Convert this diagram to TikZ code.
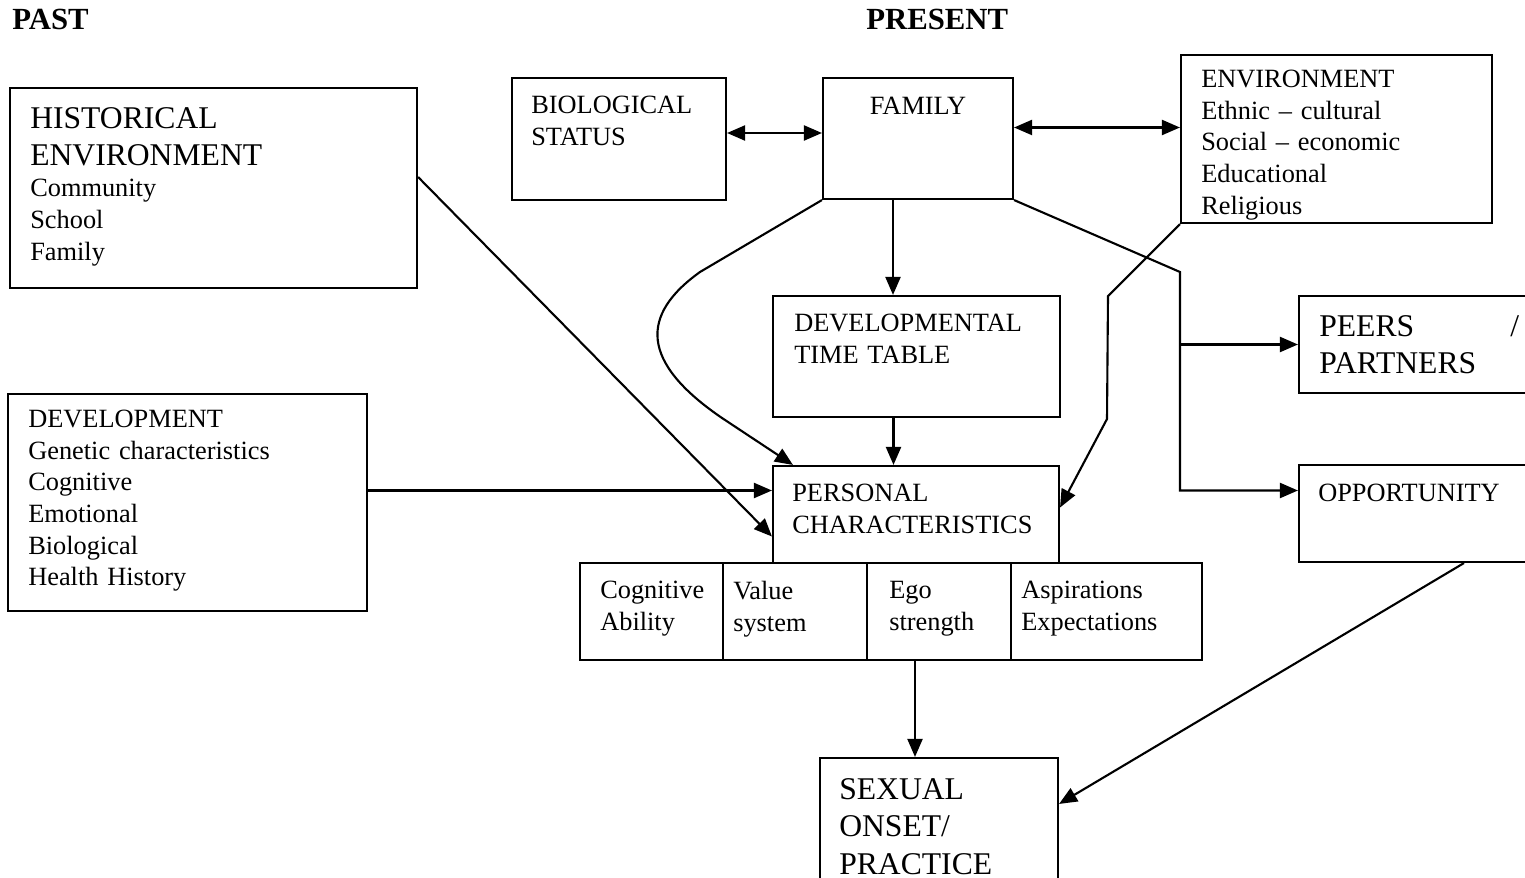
\documentclass[tikz,border=0pt]{standalone}
\usepackage{fontspec}
\setmainfont{Liberation Serif}
\usetikzlibrary{arrows.meta,positioning,calc,fit}

\begin{document}
\begin{tikzpicture}[x=0.02cm,y=-0.02cm,
  factor/.style={draw,line width=1.2pt,inner sep=0pt},
  txt/.style={anchor=north west,inner sep=0pt,align=left,text width=8cm,
    font=\fontsize{15}{18}\selectfont},
  bigtxt/.style={txt,font=\fontsize{18}{21.3}\selectfont},
  head/.style={anchor=base west,inner sep=0pt,font=\fontsize{17.5}{20}\selectfont\bfseries},
  link/.style={line width=1.2pt},
  arr/.style={link,-{Triangle[length=0.36cm,width=0.3cm]}},
  darr/.style={link,{Triangle[length=0.36cm,width=0.3cm]}-{Triangle[length=0.36cm,width=0.3cm]}}
]
  \path[fill=white,use as bounding box] (0,0) rectangle (1525,878);

  % Column headings
  \node[head] (past) at (12,30) {PAST};
  \node[head] (present) at (866,30) {PRESENT};

  % Past factors
  \node[factor,fit={(10,88) (417,288)}] (hist) {};
  \node[txt] (histtxt) at ([shift={(21,20)}]hist.north west) {%
    \fontsize{18}{21}\selectfont HISTORICAL\\ENVIRONMENT\par
    \fontsize{15}{18}\selectfont Community\\School\\Family};
  \node[factor,fit={(8,394) (367,611)}] (dev) {};
  \node[txt] (devtxt) at ([shift={(21,17)}]dev.north west) {%
    DEVELOPMENT\\Genetic characteristics\\Cognitive\\Emotional\\Biological\\Health History};

  % Present factors
  \node[factor,fit={(512,78) (726,200)}] (bio) {};
  \node[txt] (biotxt) at ([shift={(20,19)}]bio.north west) {BIOLOGICAL\\STATUS};
  \node[factor,fit={(823,78) (1013,199)}] (family) {};
  \node[anchor=north,inner sep=0pt,font=\fontsize{15}{18}\selectfont] (famtxt)
    at ([shift={(0,20)}]family.north) {FAMILY};
  \node[factor,fit={(1181,55) (1492,223)}] (env) {};
  \node[txt] (envtxt) at ([shift={(21,16)}]env.north west) {%
    ENVIRONMENT\\Ethnic -- cultural\\Social -- economic\\Educational\\Religious};
  \node[factor,fit={(773,296) (1060,417)}] (devtt) {};
  \node[txt] (devtttxt) at ([shift={(22,19)}]devtt.north west) {DEVELOPMENTAL\\TIME TABLE};
  \node[factor,fit={(1299,296) (1560,393)}] (peers) {};
  \node[bigtxt,text width=4cm] (peerstxt) at ([shift={(21,20)}]peers.north west) {PEERS\hfill/\\PARTNERS};
  \node[factor,fit={(1299,465) (1560,562)}] (opp) {};
  \node[txt] (opptxt) at ([shift={(20,20)}]opp.north west) {OPPORTUNITY};

  % Personal characteristics and its parts
  \node[factor,fit={(773,466) (1059,563)}] (personal) {};
  \node[txt] (perstxt) at ([shift={(20,19)}]personal.north west) {PERSONAL\\CHARACTERISTICS};
  \node[factor,fit={(580,563) (723,660)}] (cog) {};
  \node[txt] (cogtxt) at ([shift={(21,19)}]cog.north west) {Cognitive\\Ability};
  \node[factor,fit={(723,563) (867,660)}] (val) {};
  \node[txt] (valtxt) at ([shift={(11,19)}]val.north west) {Value\\system};
  \node[factor,fit={(867,563) (1011,660)}] (ego) {};
  \node[txt] (egotxt) at ([shift={(23,19)}]ego.north west) {Ego\\strength};
  \node[factor,fit={(1011,563) (1202,660)}] (asp) {};
  \node[txt] (asptxt) at ([shift={(11,19)}]asp.north west) {Aspirations\\Expectations};

  % Outcome
  \node[factor,fit={(820,758) (1058,905)}] (sexual) {};
  \node[bigtxt] (sextxt) at ([shift={(20,21)}]sexual.north west) {SEXUAL\\ONSET/\\PRACTICE};

  % Connectors
  \draw[darr] ($(bio.east)+(0,-6)$) coordinate (bf) -- (bf -| family.west);
  \draw[darr] ($(family.east)+(0,-11)$) coordinate (fe) -- (fe -| env.west);
  \draw[arr] ($(family.south)+(-25,0)$) coordinate (fs) -- (fs |- devtt.north);
  \draw[arr] ($(devtt.south)+(-23,0)$) coordinate (ds) -- (ds |- personal.north);
  \draw[arr] (family.south west) -- (700,272) .. controls (640,315) and (640,362) .. (722,418)
    -- ($(personal.north west)+(21,0)$);
  \draw[arr] ($(hist.east)+(0,-11)$) -- ($(personal.west)+(0,22)$);
  \draw[arr] ($(dev.east)+(0,-12)$) coordinate (dv) -- (dv -| personal.west);
  \draw[arr] (env.south west) -- (1108,296) -- (1107,419) -- ($(personal.east)+(0,-7)$);
  \coordinate (split) at (1180,272);
  \draw[arr] (family.south east) -- (split) |- ($(opp.west)+(0,-23)$);
  \draw[arr] (split |- peers.west) -- (peers.west);
  \draw[arr] ($(opp.south west)+(166,0)$) -- ($(sexual.north east)+(0,47)$);
  \coordinate (sx) at ($(sexual.north)+(-24,0)$);
  \draw[arr] (sx |- ego.south) -- (sx);
\end{tikzpicture}
\end{document}
